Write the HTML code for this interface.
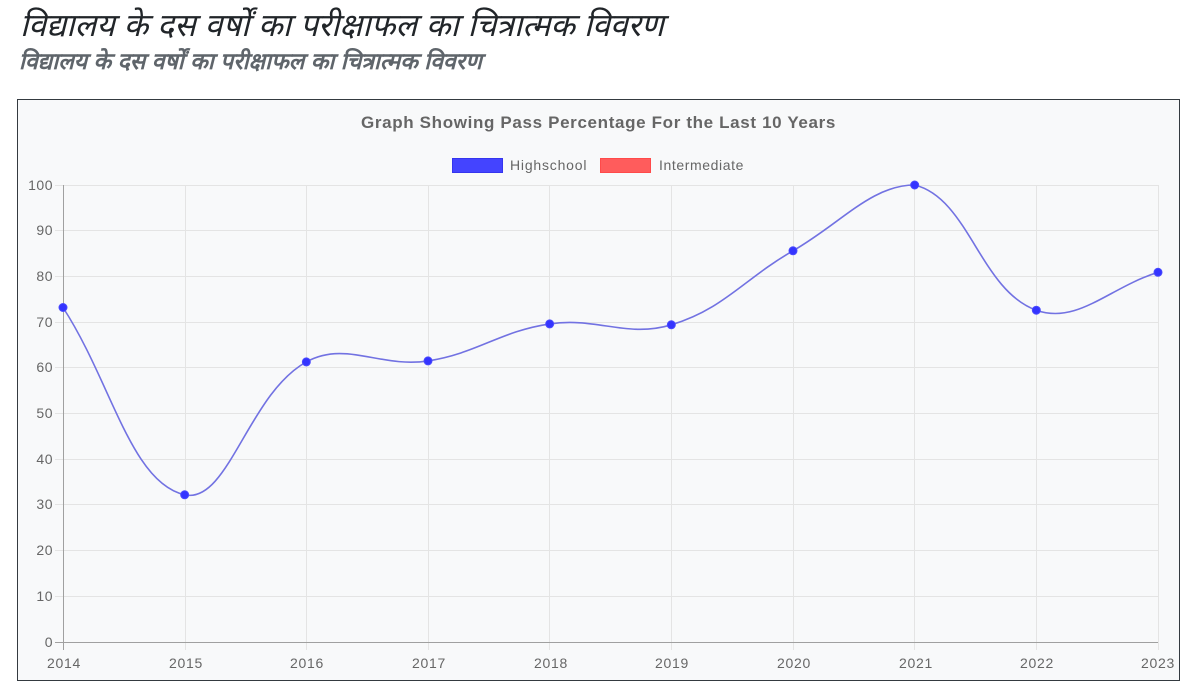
<!DOCTYPE html>
<html>
<head>
<meta charset="utf-8">
<style>
  html, body { margin:0; padding:0; background:#ffffff; width:1200px; height:693px; overflow:hidden; }
  .h1 { position:absolute; left:20px; top:3px; font-family:"Liberation Sans", sans-serif; font-style:italic; font-size:32px; line-height:44px; color:#212529; white-space:nowrap; }
  .h2 { position:absolute; left:19px; top:45px; font-family:"Liberation Sans", sans-serif; font-style:italic; font-weight:bold; font-size:23px; line-height:32px; color:#5f656b; white-space:nowrap; }
  svg { position:absolute; left:0; top:0; }
  svg text { font-family:"Liberation Sans", Arial, sans-serif; }
</style>
</head>
<body>
<div class="h1">विद्यालय के दस वर्षों का परीक्षाफल का चित्रात्मक विवरण</div>
<div class="h2">विद्यालय के दस वर्षों का परीक्षाफल का चित्रात्मक विवरण</div>
<svg width="1200" height="693" viewBox="0 0 1200 693" xmlns="http://www.w3.org/2000/svg">
  <rect x="17.5" y="99.5" width="1162" height="581" fill="#f8f9fa" stroke="#343a40" stroke-width="1"/>
  <text x="598.5" y="128" text-anchor="middle" font-size="17" font-weight="bold" fill="#666" letter-spacing="0.65">Graph Showing Pass Percentage For the Last 10 Years</text>
  <!-- legend -->
  <rect x="452.5" y="158.5" width="50" height="14" fill="#4444ff" stroke="#3535ee" stroke-width="1"/>
  <text x="510" y="170" font-size="14" fill="#666" letter-spacing="0.8">Highschool</text>
  <rect x="600.5" y="158.5" width="50" height="14" fill="#ff5c5c" stroke="#ff4a4a" stroke-width="1"/>
  <text x="659" y="170" font-size="14" fill="#666" letter-spacing="0.6">Intermediate</text>
  <!-- grid horizontal -->
  <g stroke="#e4e4e4" stroke-width="1">
    <line x1="55" y1="185.5" x2="1158" y2="185.5"/>
    <line x1="55" y1="230.5" x2="1158" y2="230.5"/>
    <line x1="55" y1="276.5" x2="1158" y2="276.5"/>
    <line x1="55" y1="322.5" x2="1158" y2="322.5"/>
    <line x1="55" y1="367.5" x2="1158" y2="367.5"/>
    <line x1="55" y1="413.5" x2="1158" y2="413.5"/>
    <line x1="55" y1="459.5" x2="1158" y2="459.5"/>
    <line x1="55" y1="504.5" x2="1158" y2="504.5"/>
    <line x1="55" y1="550.5" x2="1158" y2="550.5"/>
    <line x1="55" y1="596.5" x2="1158" y2="596.5"/>
  </g>
  <!-- grid vertical -->
  <g stroke="#e4e4e4" stroke-width="1">
    <line x1="185.5" y1="185" x2="185.5" y2="650"/>
    <line x1="306.5" y1="185" x2="306.5" y2="650"/>
    <line x1="428.5" y1="185" x2="428.5" y2="650"/>
    <line x1="549.5" y1="185" x2="549.5" y2="650"/>
    <line x1="671.5" y1="185" x2="671.5" y2="650"/>
    <line x1="793.5" y1="185" x2="793.5" y2="650"/>
    <line x1="914.5" y1="185" x2="914.5" y2="650"/>
    <line x1="1036.5" y1="185" x2="1036.5" y2="650"/>
    <line x1="1158.5" y1="185" x2="1158.5" y2="650"/>
  </g>
  <!-- axes -->
  <line x1="63.5" y1="185" x2="63.5" y2="650" stroke="#a0a0a0" stroke-width="1"/>
  <line x1="55" y1="642.5" x2="1158" y2="642.5" stroke="#a0a0a0" stroke-width="1"/>
  <!-- y labels -->
  <g font-size="14" fill="#666" text-anchor="end" letter-spacing="0.5">
    <text x="53" y="190">100</text>
    <text x="53" y="235">90</text>
    <text x="53" y="281">80</text>
    <text x="53" y="327">70</text>
    <text x="53" y="372">60</text>
    <text x="53" y="418">50</text>
    <text x="53" y="464">40</text>
    <text x="53" y="509">30</text>
    <text x="53" y="555">20</text>
    <text x="53" y="601">10</text>
    <text x="53" y="647">0</text>
  </g>
  <!-- x labels -->
  <g font-size="14" fill="#666" text-anchor="middle" letter-spacing="0.7">
    <text x="64" y="668">2014</text>
    <text x="186" y="668">2015</text>
    <text x="307" y="668">2016</text>
    <text x="429" y="668">2017</text>
    <text x="551" y="668">2018</text>
    <text x="672" y="668">2019</text>
    <text x="794" y="668">2020</text>
    <text x="916" y="668">2021</text>
    <text x="1037" y="668">2022</text>
    <text x="1158" y="668">2023</text>
  </g>
  <!-- series -->
  <path d="M63,307.5 C111.67,382.4 130.80,482.76 184.67,494.8 C228.13,504.52 248.22,393.87 306.33,361.9 C345.56,340.31 380.48,368.32 428,360.9 C477.81,353.12 499.86,331.29 549.67,323.9 C597.19,316.85 626.48,338.27 671.33,324.8 C723.82,309.03 743.63,279.17 793,250.8 C840.96,223.25 871.65,185 914.67,185 C968.98,198.26 980.05,290.01 1036.33,310.2 C1077.38,324.93 1109.33,287.46 1158,272.3" fill="none" stroke="#7272e2" stroke-width="1.6"/>
  <g fill="#3434ff" stroke="#4a4aff" stroke-width="1">
    <circle cx="63" cy="307.5" r="4"/>
    <circle cx="184.67" cy="494.8" r="4"/>
    <circle cx="306.33" cy="361.9" r="4"/>
    <circle cx="428" cy="360.9" r="4"/>
    <circle cx="549.67" cy="323.9" r="4"/>
    <circle cx="671.33" cy="324.8" r="4"/>
    <circle cx="793" cy="250.8" r="4"/>
    <circle cx="914.67" cy="185" r="4"/>
    <circle cx="1036.33" cy="310.2" r="4"/>
    <circle cx="1158" cy="272.3" r="4"/>
  </g>
</svg>
</body>
</html>
